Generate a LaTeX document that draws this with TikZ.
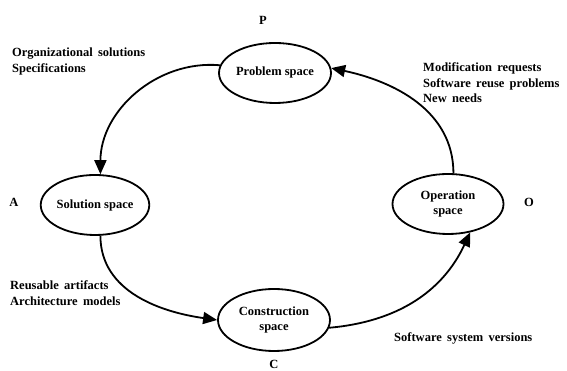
\documentclass[tikz,border=0pt]{standalone}
\usepackage{fontspec}
\setmainfont{Liberation Serif}
\newfontfamily\widefont[WordSpace=1.7]{Liberation Serif}
\usetikzlibrary{shapes.geometric,arrows.meta}
\begin{document}
\begin{tikzpicture}[x=1pt,y=1pt,
  space/.style={ellipse,draw,line width=1.8pt,inner sep=0pt,minimum width=112pt,minimum height=60pt,align=center,font=\fontsize{12.5}{15}\selectfont\bfseries},
  lab/.style={inner sep=0pt,align=left,font=\widefont\fontsize{12.5}{15.5}\selectfont\bfseries},
  letter/.style={inner sep=0pt,font=\fontsize{12.5}{15}\selectfont\bfseries},
  flow/.style={line width=1.8pt,-{Triangle[length=14pt,width=12pt]}}]
\useasboundingbox (0,0) rectangle (567,371);
\node[space] (Pr) at (275,298) {Problem space};
\node[space,minimum width=102pt] (So) at (95,166) {Solution space};
\node[space,minimum height=62pt] (Co) at (274,51) {Construction\\space};
\node[space,minimum width=111pt] (Op) at (448,167) {Operation\\space};
\draw[flow] (Pr.172) to[out=175,in=90] (So.80);
\draw[flow] (So.-80) to[out=-90,in=172] (Co.west);
\draw[flow] (Co.-8) to[out=5,in=-115] (Op.-52);
\draw[flow] (Op.80) to[out=90,in=-12] (Pr.5);
\node[letter] (lP) at (263,351) {P};
\node[letter] (lA) at (14,169) {A};
\node[letter] (lO) at (529,169) {O};
\node[letter,anchor=south] (lC) at (274,2.5) {C};
\node[lab,anchor=north west] (t1) at (12,323) {Organizational solutions\\Specifications};
\node[lab,anchor=north west] (t2) at (423,308) {Modification requests\\Software reuse problems\\New needs};
\node[lab,anchor=north west] (t3) at (10,90) {Reusable artifacts\\Architecture models};
\node[lab,anchor=north west] (t4) at (394,38) {Software system versions};
\end{tikzpicture}
\end{document}
